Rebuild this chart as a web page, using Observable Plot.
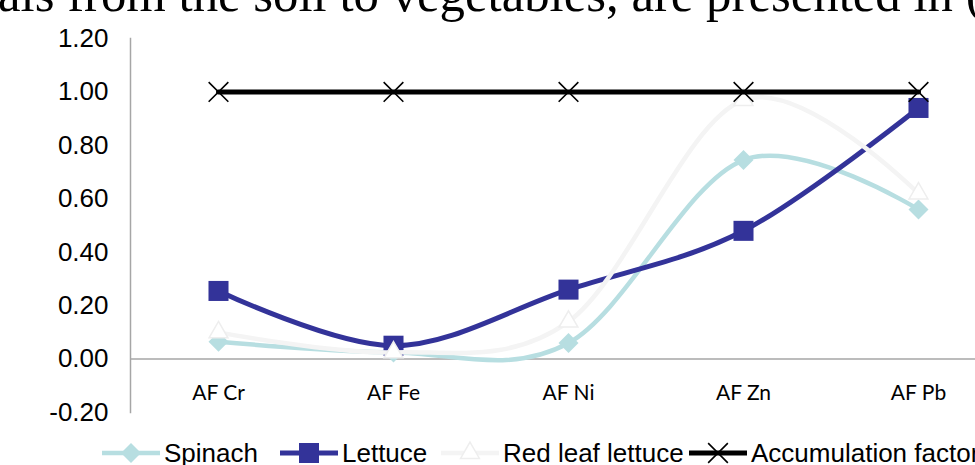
<!DOCTYPE html>
<html>
<head>
<meta charset="utf-8">
<script src="https://cdn.jsdelivr.net/npm/d3@7"></script>
<script src="https://cdn.jsdelivr.net/npm/@observablehq/plot@0.6"></script>
<style>
  html, body { margin: 0; padding: 0; background: #fff; overflow: hidden; }
  #wrap { position: relative; width: 975px; height: 465px; overflow: hidden; background: #fff; }
  #title { position: absolute; left: -2px; top: -31px; font-family: "Liberation Serif", "Times New Roman", serif; font-size: 50.8px; line-height: 50px; white-space: nowrap; color: #000; z-index: 2; }
  #chart { position: absolute; left: 0; top: 0; }
  #legend { position: absolute; left: 0; top: 438px; width: 975px; height: 30px; }
  .item { position: absolute; top: 0; height: 30px; display: flex; align-items: center; white-space: nowrap; }
  .item span { font-family: "Liberation Sans", Arial, sans-serif; font-size: 26px; line-height: 30px; color: #000; margin-left: 4px; }
</style>
</head>
<body>
<div id="wrap">
  <div id="chart"></div>
  <div id="title">als from the soil to vegetables, are presented in (</div>
  <div id="legend"></div>
</div>
<script>
// ---- data ----
const categories = ["AF Cr", "AF Fe", "AF Ni", "AF Zn", "AF Pb"];
const spinach = [0.065, 0.025, 0.06, 0.745, 0.56];
const lettuce = [0.255, 0.05, 0.26, 0.48, 0.94];
const redLeafLettuce = [0.10, 0.025, 0.14, 0.97, 0.62];
const accumulationFactor = [1.00, 1.00, 1.00, 1.00, 1.00];
const seriesNames = ["Spinach", "Lettuce", "Red leaf lettuce", "Accumulation factor"];
const yTicks = [-0.2, 0, 0.2, 0.4, 0.6, 0.8, 1.0, 1.2];

// ---- styles ----
const styles = [
  {values: spinach, stroke: "#B7DEE1", width: 4.5, symbol: "diamond2", r: 9, fill: "#B7DEE1", mstroke: "none", msw: 0},
  {values: lettuce, stroke: "#333399", width: 5, symbol: "square", r: 11.3, fill: "#333399", mstroke: "none", msw: 0},
  {values: redLeafLettuce, stroke: "#F4F4F4", width: 4.5, symbol: "triangle", r: 7, fill: "#FFFFFF", mstroke: "#EEEEEE", msw: 1.5},
  {values: accumulationFactor, stroke: "#000000", width: 5, symbol: "times", r: 9, fill: "none", mstroke: "#000000", msw: 1.6}
];

const seriesMarks = [];
styles.forEach((s, k) => {
  const rows = categories.map((c, i) => ({cat: c, value: s.values[i], series: seriesNames[k]}));
  seriesMarks.push(Plot.line(rows, {x: "cat", y: "value", stroke: s.stroke, strokeWidth: s.width, curve: "cardinal", tension: 0}));
  seriesMarks.push(Plot.dot(rows, {x: "cat", y: "value", symbol: () => s.symbol, r: s.r, fill: s.fill, stroke: s.mstroke, strokeWidth: s.msw}));
});

const chart = Plot.plot({
  width: 975,
  height: 430,
  marginTop: 38,
  marginBottom: 18,
  marginLeft: 130,
  marginRight: 0,
  x: {type: "point", domain: categories, range: [130, 1005], padding: 0.5, axis: null},
  y: {domain: [-0.2, 1.2], axis: null},
  style: {fontFamily: "Liberation Sans, Arial, sans-serif", fontSize: "26px", color: "#000", background: "transparent", overflow: "visible"},
  marks: [
    Plot.frame({anchor: "left", stroke: "#A6A6A6", strokeWidth: 1.5}),
    Plot.ruleY([0], {stroke: "#A6A6A6", strokeWidth: 1.5}),
    Plot.axisY({ticks: yTicks, tickSize: 0, tickPadding: 22, tickFormat: d => d.toFixed(2), fontSize: 26, label: null}),
    Plot.text(categories, {x: d => d, frameAnchor: "bottom", dy: -19, lineAnchor: "middle", fontFamily: "Lato, Carlito, sans-serif", fontSize: 21, fill: "#000"}),
    ...seriesMarks
  ]
});
document.getElementById("chart").appendChild(chart);

// ---- legend ----
const legendLefts = [102, 280, 441, 689];
const legend = document.getElementById("legend");
styles.forEach((s, k) => {
  const item = document.createElement("div");
  item.className = "item";
  item.style.left = legendLefts[k] + "px";
  const svg = d3.create("svg").attr("width", 58).attr("height", 30);
  svg.append("line").attr("x1", 0).attr("x2", 58).attr("y1", 15).attr("y2", 15)
    .attr("stroke", s.stroke).attr("stroke-width", s.width);
  const symMap = {diamond2: d3.symbolDiamond2, square: d3.symbolSquare, triangle: d3.symbolTriangle, times: d3.symbolTimes};
  svg.append("path").attr("transform", "translate(29,15)")
    .attr("d", d3.symbol(symMap[s.symbol], Math.PI * s.r * s.r)())
    .attr("fill", s.fill).attr("stroke", s.mstroke).attr("stroke-width", s.msw);
  item.appendChild(svg.node());
  const span = document.createElement("span");
  span.textContent = seriesNames[k];
  item.appendChild(span);
  legend.appendChild(item);
});
</script>
</body>
</html>
